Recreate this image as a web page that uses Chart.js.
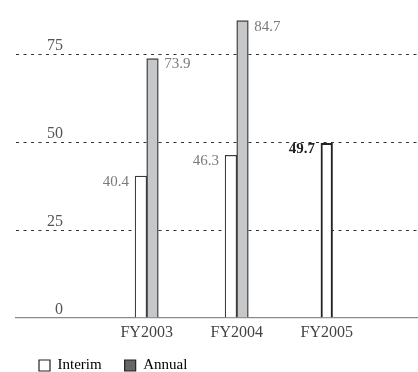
<!DOCTYPE html>
<html>
<head>
<meta charset="utf-8">
<script src="https://cdn.jsdelivr.net/npm/chart.js@4"></script>
<style>
  html, body { margin: 0; padding: 0; background: #fff; }
  #wrap { width: 418px; height: 372px; }
</style>
</head>
<body>
<div id="wrap"><canvas id="c" width="418" height="372"></canvas></div>
<script>
// Fiscal years shown along the x axis (placed at positions 1, 2, 3)
const categories = ['FY2003', 'FY2004', 'FY2005'];
const categoryPositions = [1, 2, 3];

// Dividend values per fiscal year
const interimValues = [40.4, 46.3, 49.7];
const annualValues = [73.9, 84.7, null];

// Value-axis ticks
const yTicks = [0, 25, 50, 75];

const SERIF = '"Liberation Serif", "DejaVu Serif", serif';

const toPoints = (vals) => vals.map((v, i) => ({ x: categoryPositions[i], y: v }));

// Writes each bar's value beside its top: interim to the left, annual to the right
const valueLabels = {
  id: 'valueLabels',
  afterDatasetsDraw(chart) {
    const ctx = chart.ctx;
    ctx.save();
    ctx.textBaseline = 'middle';
    chart.data.datasets.forEach((ds, di) => {
      const meta = chart.getDatasetMeta(di);
      meta.data.forEach((bar, i) => {
        const p = ds.data[i];
        if (!p || p.y === null || p.y === undefined) return;
        const last = di === 0 && i === ds.data.length - 1;
        ctx.font = (last ? 'bold ' : '') + '15px ' + SERIF;
        ctx.fillStyle = last ? '#222' : '#7a7a7a';
        const half = bar.width / 2;
        if (di === 0) {
          ctx.textAlign = 'right';
          ctx.fillText(p.y.toFixed(1), bar.x - half - 6, bar.y + 6);
        } else {
          ctx.textAlign = 'left';
          ctx.fillText(p.y.toFixed(1), bar.x + half + 6, bar.y + 6);
        }
      });
    });
    ctx.restore();
  }
};

// Value-axis labels sit just above their gridlines, inside the plot
const yLabels = {
  id: 'yLabels',
  afterDraw(chart) {
    const ctx = chart.ctx;
    const y = chart.scales.y;
    ctx.save();
    ctx.font = '16px ' + SERIF;
    ctx.fillStyle = '#555';
    ctx.textAlign = 'right';
    ctx.textBaseline = 'middle';
    y.ticks.forEach(t => {
      ctx.fillText(String(t.value), 63, y.getPixelForValue(t.value) - 8.5);
    });
    ctx.restore();
  }
};

// Nudges the legend row into place under the axis labels
const legendPlacement = {
  id: 'legendPlacement',
  afterLayout(chart) {
    if (chart.legend) {
      chart.legend.top += chart.options.plugins.legendPlacement.dy;
    }
  }
};

new Chart(document.getElementById('c'), {
  type: 'bar',
  data: {
    datasets: [
      {
        label: 'Interim',
        data: toPoints(interimValues),
        backgroundColor: '#ffffff',
        borderColor: ['#3a3a3a', '#3a3a3a', '#222222'],
        borderWidth: [1.2, 1.2, 2],
        legendFill: '#ffffff'
      },
      {
        label: 'Annual',
        data: toPoints(annualValues),
        backgroundColor: '#c6c7c8',
        borderColor: '#4a4a4a',
        borderWidth: 1.5,
        legendFill: '#666666'
      }
    ]
  },
  options: {
    responsive: false,
    animation: false,
    devicePixelRatio: 1,
    skipNull: true,
    barThickness: 11.6,
    layout: { padding: { left: 16, right: 0, top: 2, bottom: 0 } },
    scales: {
      x: {
        type: 'linear',
        min: -0.452,
        max: 4.014,
        offset: false,
        afterBuildTicks(scale) {
          scale.ticks = categoryPositions.map(v => ({ value: v }));
        },
        ticks: {
          padding: 5,
          color: '#444',
          font: { family: SERIF, size: 16 },
          callback: (v) => categories[categoryPositions.indexOf(v)]
        },
        grid: { display: false, drawTicks: false, offset: false },
        border: { display: true, color: '#8a8a8a', width: 1.2 }
      },
      y: {
        min: 0,
        max: 90,
        afterBuildTicks(scale) {
          scale.ticks = yTicks.map(v => ({ value: v }));
        },
        ticks: { display: false },
        grid: {
          drawTicks: false,
          color: (c) => (c.tick && c.tick.value === 0) ? 'rgba(0,0,0,0)' : '#333',
          lineWidth: 1
        },
        border: { display: false, dash: [3, 4.5] }
      }
    },
    plugins: {
      tooltip: { enabled: false },
      legendPlacement: { dy: -12 },
      legend: {
        position: 'bottom',
        align: 'start',
        maxHeight: 25,
        labels: {
          padding: 23,
          boxWidth: 11,
          boxHeight: 11,
          color: '#222',
          font: { family: SERIF, size: 15 },
          generateLabels(chart) {
            return chart.data.datasets.map((ds, i) => ({
              text: ds.label,
              fillStyle: ds.legendFill,
              strokeStyle: '#222',
              lineWidth: 1.2,
              datasetIndex: i,
              hidden: false
            }));
          }
        }
      }
    }
  },
  plugins: [valueLabels, yLabels, legendPlacement]
});
</script>
</body>
</html>
